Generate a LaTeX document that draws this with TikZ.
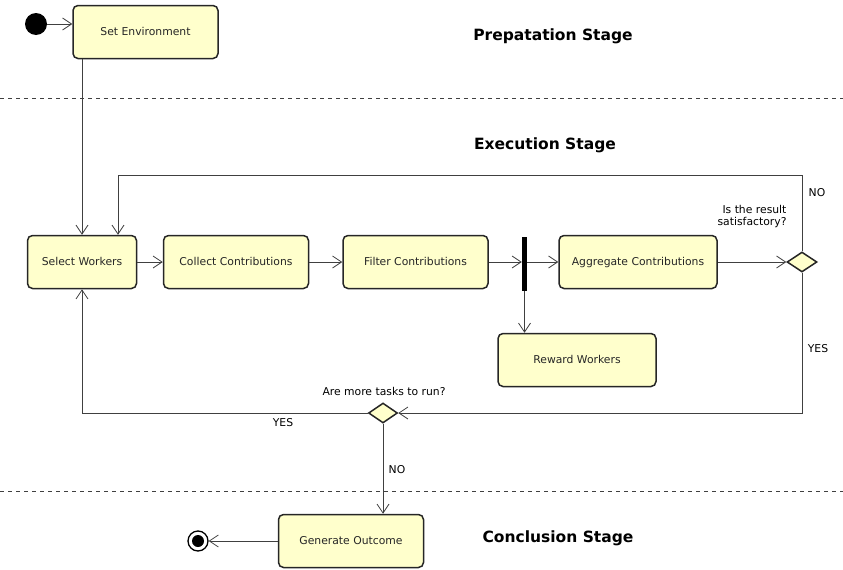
\documentclass[tikz,border=0pt]{standalone}
\usepackage{fontspec}
\setmainfont{DejaVu Sans}
\usetikzlibrary{positioning, arrows.meta, shapes.geometric}

\definecolor{boxfill}{RGB}{255,255,204}
\definecolor{linegray}{RGB}{64,64,64}

\begin{document}
\begin{tikzpicture}[
        x=1pt, y=-1pt,
        font=\fontsize{10.8}{12}\selectfont,
        box/.style={draw=black!85, line width=1.5pt, rounded corners=5pt, fill=boxfill, minimum width=145pt, minimum height=53pt, align=center, text height=1.6ex, text depth=0.4ex, text=black!85},
        choice/.style={diamond, draw=black!85, line width=1.5pt, fill=boxfill, inner sep=0pt, minimum width=30pt, minimum height=20pt},
        arrow/.style={draw=linegray, line width=0.8pt, -{Straight Barb[length=9pt, width=12pt]}},
        stage/.style={font=\fontsize{15.5}{18}\selectfont\bfseries},
        border/.style={draw=black!75, line width=0.8pt, dash pattern=on 4pt off 4pt}
    ]

    \useasboundingbox (0,0) rectangle (843,570);

    % Stufen
    \draw[border] (0,98) -- (843,98);
    \draw[border] (0,491) -- (843,491);
    \node (prepstage) [stage] at (553,36) {Prepatation Stage};
    \node (execstage) [stage] at (545,145) {Execution Stage};
    \node (conclstage) [stage] at (558,538) {Conclusion Stage};

    % Aktivitaeten
    \node (start) [circle, fill=black, minimum size=22pt, inner sep=0pt] at (36,24) {};
    \node (setenv) [box] at (145.5,32) {Set Environment};
    \node (select) [box, minimum width=109pt] at (82,262) {Select Workers};
    \node (collect) [box] at (236,262) {Collect Contributions};
    \node (filter) [box] at (415.5,262) {Filter Contributions};
    \node (fork) [fill=black, minimum width=5pt, minimum height=54pt, inner sep=0pt] at (524.5,264) {};
    \node (aggregate) [box, minimum width=158pt] at (638,262) {Aggregate Contributions};
    \node (satisfied) [choice] at (802,262) {};
    \node (reward) [box, minimum width=158pt] at (577,360) {Reward Workers};
    \node (moretasks) [choice, minimum width=29pt] at (383,413) {};
    \node (outcome) [box] at (351,541) {Generate Outcome};
    \node (finish) [circle, draw=black, line width=1.3pt, minimum size=20pt, inner sep=0pt] at (198,541) {};
    \node (finishdot) [circle, fill=black, minimum size=12pt, inner sep=0pt] at (finish) {};

    \coordinate (toploop) at (118,175);

    % Verbindungen
    \draw[arrow] (start) -- (start -| setenv.west);
    \draw[arrow] (setenv.south -| select.north) -- (select.north);
    \draw[arrow] (select) -- (collect);
    \draw[arrow] (collect) -- (filter);
    \draw[arrow] (filter.east) -- (filter.east -| fork.west);
    \draw[arrow] (fork.east |- aggregate.west) -- (aggregate.west);
    \draw[arrow] (fork.south) -- (fork.south |- reward.north);
    \draw[arrow] (aggregate) -- (satisfied);
    \draw[arrow] (satisfied.north) |- (toploop) -- (toploop |- select.north);
    \draw[arrow] (satisfied.south) |- (moretasks.east);
    \draw[arrow] (moretasks.west) -| (select.south);
    \draw[arrow] (moretasks.south) -- (moretasks.south |- outcome.north);
    \draw[arrow] (outcome) -- (finish);

    % Beschriftungen
    \node (no1) at (817,193) {NO};
    \node (question1) [anchor=east, align=right] at (790,217) {Is the result\\satisfactory?};
    \node (yes1) at (818,349) {YES};
    \node (question2) at (384,391) {Are more tasks to run?};
    \node (yes2) at (283,423) {YES};
    \node (no2) at (397,470) {NO};

\end{tikzpicture}
\end{document}
